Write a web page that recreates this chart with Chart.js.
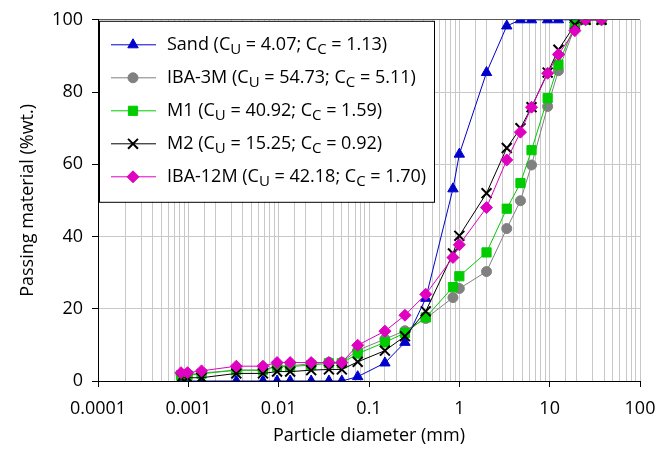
<!DOCTYPE html>
<html>
<head>
<meta charset="utf-8">
<script src="https://cdn.jsdelivr.net/npm/chart.js@4.4.1/dist/chart.umd.min.js"></script>
<style>
  html, body { margin: 0; padding: 0; background: #fff; }
</style>
</head>
<body>
<canvas id="psdChart" width="670" height="464"></canvas>
<script>
// particle sizes (mm) and % passing for each material
var sizes = [0.00083, 0.00098, 0.0014, 0.0034, 0.0067, 0.0096, 0.0134, 0.0229, 0.036, 0.05,
             0.075, 0.15, 0.25, 0.425, 0.85, 1, 2, 3.35, 4.75, 6.3, 9.5, 12.5, 19, 25, 37.5];
var sand   = [0, 0, 0, 0, 0, 0, 0, 0, 0, 0, 1.2, 5.0, 10.7, 22.9, 53.2, 62.8, 85.4, 98.3, 100, 100, 100, 100, 100, null, null];
var iba3m  = [1.8, 1.8, 2.2, 3.0, 3.0, 4.2, 4.2, 4.8, 5.2, 5.2, 8.5, 11.6, 13.9, 17.3, 23.1, 25.6, 30.3, 42.2, 49.9, 59.8, 76.0, 85.9, 98.0, 100, 100];
var m1     = [1.6, 1.6, 2.0, 3.0, 3.0, 4.0, 4.0, 4.4, 4.9, 4.9, 7.6, 10.7, 13.3, 17.6, 26.0, 29.0, 35.6, 47.7, 54.8, 63.9, 78.3, 87.6, 98.6, 100, 100];
var m2     = [0.9, 0.9, 0.9, 2.1, 2.1, 2.6, 2.6, 3.0, 3.2, 3.2, 5.3, 8.4, 12.4, 19.3, 35.3, 40.2, 52.0, 64.5, 70.0, 75.8, 85.4, 91.7, 98.6, 100, 100];
var iba12m = [2.3, 2.3, 2.8, 4.1, 4.1, 5.1, 5.1, 5.1, 5.1, 5.1, 9.9, 13.8, 18.2, 24.0, 34.2, 37.7, 48.0, 61.2, 68.9, 75.8, 85.2, 90.4, 97.0, 100, 100];

var names = ['Sand', 'IBA-3M', 'M1', 'M2', 'IBA-12M'];
var cuVals = ['4.07', '54.73', '40.92', '15.25', '42.18'];
var ccVals = ['1.13', '5.11', '1.59', '0.92', '1.70'];
var xTickLabels = ['0.0001', '0.001', '0.01', '0.1', '1', '10', '100'];

var FONT = "'Open Sans', sans-serif";

function pts(vals) {
  var out = [];
  for (var i = 0; i < sizes.length; i++) {
    if (vals[i] !== null) out.push({ x: sizes[i], y: vals[i] });
  }
  return out;
}

function isDecade(v) {
  var l = Math.log10(v);
  return Math.abs(l - Math.round(l)) < 1e-6;
}

function series(i, vals, color, style, radius, bw, order) {
  return {
    label: names[i],
    data: pts(vals),
    borderColor: color,
    backgroundColor: color,
    borderWidth: 1,
    pointStyle: style,
    pointRadius: radius,
    pointBackgroundColor: color,
    pointBorderColor: color,
    pointBorderWidth: bw,
    order: order
  };
}

// legend drawn inside the plot with subscripts
var legendBox = {
  id: 'legendBox',
  afterDraw: function(chart) {
    var ctx = chart.ctx, a = chart.chartArea;
    var x0 = a.left + 1, y0 = a.top + 1, w = 335, h = 181;
    ctx.save();
    ctx.fillStyle = '#fff';
    ctx.fillRect(x0, y0, w, h);
    ctx.strokeStyle = '#000';
    ctx.lineWidth = 1;
    ctx.strokeRect(x0 + 0.5, y0 + 0.5, w, h);
    chart.data.datasets.forEach(function(ds, i) {
      var y = y0 + 24 + i * 33;
      ctx.strokeStyle = ds.borderColor;
      ctx.lineWidth = 1;
      ctx.beginPath();
      ctx.moveTo(x0 + 12, y);
      ctx.lineTo(x0 + 57, y);
      ctx.stroke();
      ctx.fillStyle = ds.pointBackgroundColor;
      ctx.strokeStyle = ds.pointBorderColor;
      ctx.lineWidth = ds.pointBorderWidth;
      Chart.helpers.drawPoint(ctx, { pointStyle: ds.pointStyle, radius: ds.pointRadius, borderWidth: ds.pointBorderWidth }, x0 + 34, y);

      var segs = [
        [names[i] + ' (C', false], ['U', true], [' = ' + cuVals[i] + '; C', false],
        ['C', true], [' = ' + ccVals[i] + ')', false]
      ];
      var tx = x0 + 68;
      ctx.fillStyle = '#000';
      ctx.textBaseline = 'middle';
      segs.forEach(function(s) {
        ctx.font = (s[1] ? '15px ' : '18px ') + FONT;
        ctx.fillText(s[0], tx, s[1] ? y + 5 : y);
        tx += ctx.measureText(s[0]).width;
      });
    });
    ctx.restore();
  }
};

var ctx = document.getElementById('psdChart').getContext('2d');
var psdChart = new Chart(ctx, {
  type: 'line',
  data: {
    datasets: [
      series(0, sand, '#0000cc', 'triangle', 6, 1, 5),
      series(1, iba3m, '#808080', 'circle', 5, 1, 4),
      series(2, m1, '#00cc00', 'rect', 6.5, 1, 3),
      series(3, m2, '#000000', 'crossRot', 7, 2, 2),
      series(4, iba12m, '#e000c0', 'rectRot', 6, 1, 1)
    ]
  },
  options: {
    responsive: false,
    animation: false,
    layout: { padding: { top: 18, right: 30, left: 0, bottom: 0 } },
    plugins: {
      legend: { display: false },
      tooltip: { enabled: false }
    },
    scales: {
      x: {
        type: 'logarithmic',
        min: 0.0001,
        max: 100,
        afterFit: function(scale) { scale.height = 83; },
        border: { color: '#000', width: 1 },
        grid: {
          color: '#c8c8c8',
          lineWidth: 1,
          tickLength: 6,
          tickColor: function(c) { return c.tick && isDecade(c.tick.value) ? '#000' : 'rgba(0,0,0,0)'; }
        },
        ticks: {
          autoSkip: false,
          maxRotation: 0,
          padding: 11,
          color: '#000',
          font: { family: FONT, size: 18 },
          callback: function(v) {
            if (!isDecade(v)) return '';
            return xTickLabels[Math.round(Math.log10(v)) + 4];
          }
        },
        title: {
          display: true,
          text: 'Particle diameter (mm)',
          color: '#000',
          font: { family: FONT, size: 18 },
          padding: { top: 0, bottom: 17 }
        }
      },
      y: {
        min: 0,
        max: 100,
        afterFit: function(scale) { scale.width = 98; },
        border: { color: '#000', width: 1 },
        grid: {
          color: function(c) { return c.tick && c.tick.value === 100 ? '#595959' : '#c8c8c8'; },
          lineWidth: 1,
          tickLength: 6,
          tickColor: '#000'
        },
        ticks: {
          stepSize: 20,
          padding: 9,
          color: '#000',
          font: { family: FONT, size: 18 }
        },
        title: {
          display: true,
          text: 'Passing material (%wt.)',
          color: '#000',
          font: { family: FONT, size: 18 },
          padding: { top: 17, bottom: 0 }
        }
      }
    }
  },
  plugins: [legendBox]
});
</script>
</body>
</html>
